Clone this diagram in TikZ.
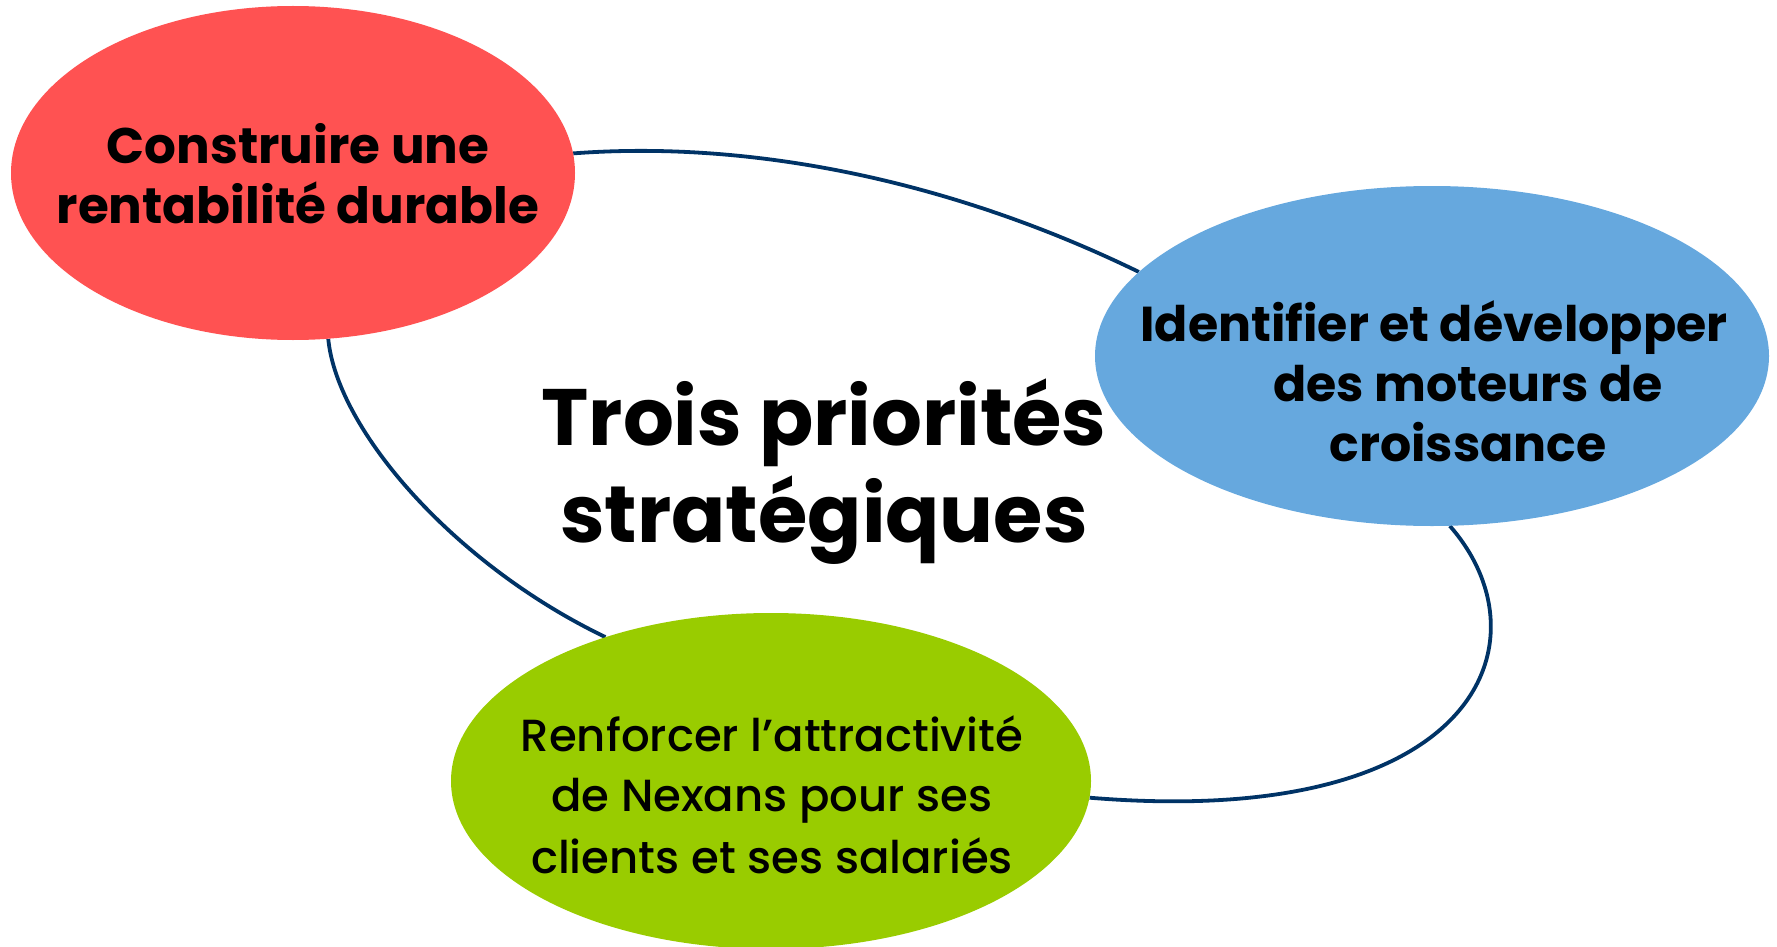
\documentclass[tikz,border=0pt]{standalone}
\usepackage{fontspec}
\setmainfont{Poppins}
\newfontfamily\futb{Poppins}[UprightFont=* Bold]
\newfontfamily\futm{Poppins}[UprightFont=* Medium]
\usetikzlibrary{shapes.geometric,backgrounds}
\definecolor{cRed}{RGB}{255,82,82}
\definecolor{cBlue}{RGB}{102,168,222}
\definecolor{cGreen}{RGB}{153,204,0}
\definecolor{cLine}{RGB}{0,51,102}
\tikzset{
  prio/.style={ellipse, inner sep=0pt, draw=none, text=black},
  lbl/.style={anchor=base, inner sep=0pt, text=black},
  redtxt/.style={lbl, font=\futb\fontsize{50}{60}\selectfont},
  bluetxt/.style={lbl, font=\futb\fontsize{49}{60}\selectfont},
  greentxt/.style={lbl, font=\futm\fontsize{45}{60}\selectfont},
  titletxt/.style={lbl, font=\futb\fontsize{80}{96}\selectfont},
  link/.style={draw=cLine, line width=3.8pt}
}
\begin{document}
\begin{tikzpicture}[x=1pt,y=-1pt]
\useasboundingbox (0,0) rectangle (1777,947);
\node[prio, fill=cRed, minimum width=564pt, minimum height=334pt] (red) at (293,173) {};
\node[prio, fill=cBlue, minimum width=674pt, minimum height=340pt] (blue) at (1432,356) {};
\node[prio, fill=cGreen, minimum width=640pt, minimum height=336pt] (green) at (771,781) {};
\node[redtxt] (tred1) at (298,164) {Construire une};
\node[redtxt] (tred2) at (298,223) {rentabilité durable};
\node[bluetxt] (tblue1) at (1434,341) {Identifier et développer};
\node[bluetxt] (tblue2) at (1468,401) {des moteurs de};
\node[bluetxt] (tblue3) at (1468,461) {croissance};
\node[greentxt] (tgreen1) at (772,751) {Renforcer l’attractivité};
\node[greentxt] (tgreen2) at (772,811) {de Nexans pour ses};
\node[greentxt] (tgreen3) at (772,873) {clients et ses salariés};
\node[titletxt] (title1) at (824,445) {Trois priorités};
\node[titletxt] (title2) at (824,542) {stratégiques};
\begin{scope}[on background layer]
\draw[link] (red.4.5) .. controls (750,140) and (950,180) .. (blue.164.7);
\draw[link] (red.282) .. controls (337,430) and (455,565) .. (green.139);
\draw[link] (blue.276.4) .. controls (1550,640) and (1480,830) .. (green.-3.4);
\end{scope}
\end{tikzpicture}
\end{document}
